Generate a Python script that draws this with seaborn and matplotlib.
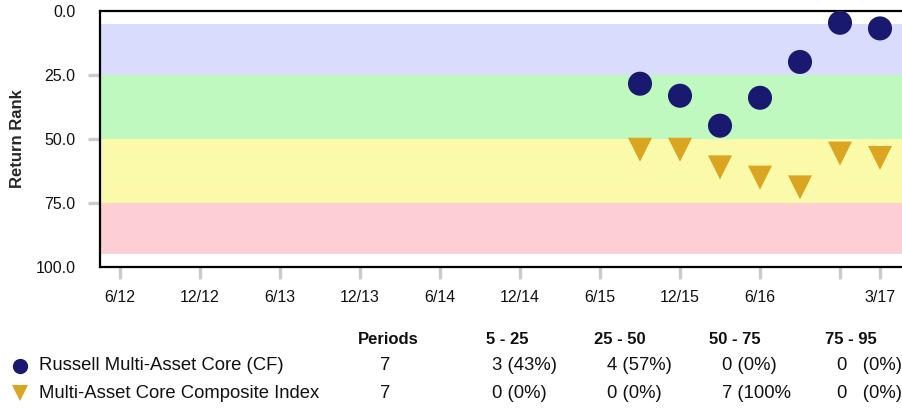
import matplotlib
matplotlib.use("Agg")
import matplotlib.pyplot as plt
from matplotlib.lines import Line2D
import seaborn as sns
import pandas as pd

# quarters along the x axis (6/12 .. 3/17)
axis_quarters = ['6/12', '9/12', '12/12', '3/13', '6/13', '9/13', '12/13', '3/14',
                 '6/14', '9/14', '12/14', '3/15', '6/15', '9/15', '12/15', '3/16',
                 '6/16', '9/16', '12/16', '3/17']
tick_quarters = ['6/12', '12/12', '6/13', '12/13', '6/14', '12/14', '6/15',
                 '12/15', '6/16', '12/16', '3/17']
tick_labels = ['6/12', '12/12', '6/13', '12/13', '6/14', '12/14', '6/15',
               '12/15', '6/16', '', '3/17']

# observations
obs_quarters = ['9/15', '12/15', '3/16', '6/16', '9/16', '12/16', '3/17']
fund_rank = [28.4, 33.1, 44.8, 33.9, 19.9, 4.6, 6.8]
index_rank = [54.2, 54.2, 61.1, 65.1, 68.9, 55.7, 57.4]

fund_name = 'Russell Multi-Asset Core (CF)'
index_name = 'Multi-Asset Core Composite Index'

# ranking bands
band_edges = [5, 25, 50, 75, 95]
band_colors = ['#dadcfe', '#c0f9c0', '#fafaaa', '#fdced3']

# summary table
table_headers = ['Periods', '5 - 25', '25 - 50', '50 - 75', '75 - 95']
fund_row = ['7', '3 (43%)', '4 (57%)', '0 (0%)', '0   (0%)']
index_row = ['7', '0 (0%)', '0 (0%)', '7 (100%', '0   (0%)']

navy = '#191970'
gold = '#daa520'

sns.set_style("white")
plt.rcParams['font.family'] = ['Liberation Sans', 'DejaVu Sans']

fig = plt.figure(figsize=(9.02, 4.08), dpi=100)
ax = fig.add_axes([100 / 902, 1 - 267 / 408, 1 - 100 / 902, 256 / 408])

for i, c in enumerate(band_colors):
    ax.axhspan(band_edges[i], band_edges[i + 1], color=c, lw=0, zorder=0)

df = pd.DataFrame({
    'x': [axis_quarters.index(q) for q in obs_quarters] * 2,
    'rank': fund_rank + index_rank,
    'series': [fund_name] * len(fund_rank) + [index_name] * len(index_rank),
})
sns.scatterplot(data=df, x='x', y='rank', hue='series', style='series',
                palette={fund_name: navy, index_name: gold},
                markers={fund_name: 'o', index_name: 'v'},
                s=300, linewidth=0, legend=False, ax=ax, zorder=3)

ax.set_xlim(-0.5, (902 - 120) / 40)
ax.set_ylim(100, 0)
ax.set_xticks([axis_quarters.index(q) for q in tick_quarters])
ax.set_xticklabels(tick_labels)
ax.set_yticks([0, 25, 50, 75, 100])
ax.set_yticklabels(['0.0', '25.0', '50.0', '75.0', '100.0'])
ax.set_xlabel('')
ax.set_ylabel('Return Rank', fontsize=12, fontweight='bold')
ax.yaxis.set_label_coords(-75 / 802, 0.5)
ax.tick_params(axis='both', which='major', direction='out', length=8.6, width=2.4,
               color='#c8ccd0', labelsize=11.5, labelcolor='#111111',
               bottom=True, left=True)
ax.tick_params(axis='x', pad=8)
ax.tick_params(axis='y', pad=9)
yt = ax.yaxis.get_major_ticks()
yt[0].tick1line.set_visible(False)
yt[-1].tick1line.set_visible(False)

for side in ['top', 'left', 'bottom']:
    ax.spines[side].set_visible(True)
    ax.spines[side].set_color('black')
    ax.spines[side].set_linewidth(1.6)
ax.spines['right'].set_visible(False)

# summary table under the chart
col_x = [388, 507, 620, 735, 851]
head_y = 1 - 340 / 408
row_y = [1 - 366 / 408, 1 - 393 / 408]
for x, h in zip(col_x, table_headers):
    fig.text(x / 902, head_y, h, ha='center', va='center', fontsize=12,
             fontweight='bold', color='#111111')

row_cells_x = [380, 492, 607, 722, 837]
for y, name, row, color, mk in [(row_y[0], fund_name, fund_row, navy, 'o'),
                                (row_y[1], index_name, index_row, gold, 'v')]:
    fig.add_artist(Line2D([20 / 902], [y], transform=fig.transFigure, marker=mk,
                          markersize=11, color=color, markeredgewidth=0))
    fig.text(39 / 902, y, name, ha='left', va='center', fontsize=13.3, color='#111111')
    for x, v in zip(row_cells_x, row):
        fig.text(x / 902, y, v, ha='left', va='center', fontsize=13.3, color='#111111')

fig.savefig('out.png', dpi=100)
